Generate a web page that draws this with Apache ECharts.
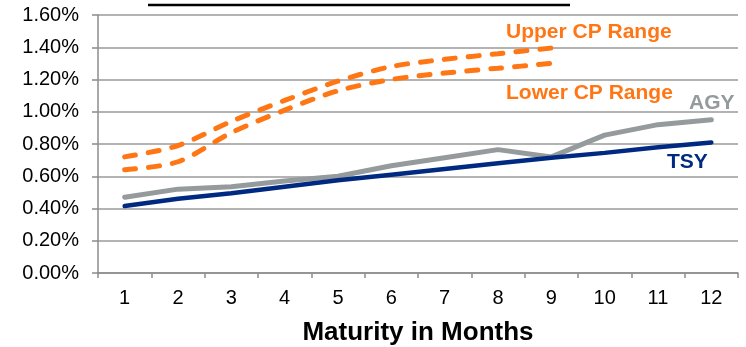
<!DOCTYPE html>
<html>
<head>
<meta charset="utf-8">
<script src="https://cdn.jsdelivr.net/npm/echarts@6/dist/echarts.min.js"></script>
<style>
  html, body { margin: 0; padding: 0; background: #fff; }
  #chart { width: 746px; height: 347px; }
</style>
</head>
<body>
<div id="chart"></div>
<script>
// Maturity buckets (months)
const months = ['1', '2', '3', '4', '5', '6', '7', '8', '9', '10', '11', '12'];

// Yields in percent
const upperCP = [0.72, 0.79, 0.94, 1.07, 1.19, 1.28, 1.325, 1.36, 1.395, null, null, null];
const lowerCP = [0.64, 0.69, 0.87, 1.01, 1.13, 1.20, 1.24, 1.27, 1.30, null, null, null];
const agy = [0.47, 0.52, 0.535, 0.57, 0.60, 0.665, 0.715, 0.765, 0.72, 0.855, 0.92, 0.95];
const tsy = [0.415, 0.46, 0.495, 0.535, 0.575, 0.61, 0.645, 0.68, 0.715, 0.745, 0.78, 0.81];

const yTicks = [0, 0.2, 0.4, 0.6, 0.8, 1.0, 1.2, 1.4, 1.6];

const ORANGE = '#ff7615';
const GREY = '#959a9c';
const NAVY = '#002a82';
const FONT = 'Liberation Sans, Arial, sans-serif';

const chart = echarts.init(document.getElementById('chart'), null, { renderer: 'canvas' });

function seriesLabel(text, x, y, color) {
  return {
    type: 'text',
    style: { x: x, y: y, text: text, fill: color, font: 'bold 21px ' + FONT, verticalAlign: 'middle' }
  };
}

chart.setOption({
  animation: false,
  grid: { left: 98, right: 8, top: 15, bottom: 74, containLabel: false, outerBoundsMode: 'none' },
  xAxis: {
    type: 'category',
    data: months,
    boundaryGap: true,
    name: 'Maturity in Months',
    nameLocation: 'middle',
    nameGap: 47,
    nameTextStyle: { fontFamily: FONT, fontSize: 26, fontWeight: 'bold', color: '#000' },
    axisLine: { lineStyle: { color: '#8c8c8c', width: 1.5 } },
    axisTick: { show: true, alignWithLabel: false, length: 5, lineStyle: { color: '#8c8c8c', width: 1.5 } },
    axisLabel: { fontFamily: FONT, fontSize: 20, color: '#000', margin: 15 },
    splitLine: { show: false }
  },
  yAxis: {
    type: 'value',
    min: yTicks[0],
    max: yTicks[yTicks.length - 1],
    interval: 0.2,
    axisLine: { show: true, lineStyle: { color: '#8c8c8c', width: 1.5 } },
    axisTick: { show: true, length: 6, inside: false, lineStyle: { color: '#8c8c8c', width: 1.5 } },
    axisLabel: {
      fontFamily: FONT, fontSize: 20, color: '#000', margin: 19,
      formatter: v => v.toFixed(2) + '%'
    },
    splitLine: { show: true, lineStyle: { color: '#9a9a9a', width: 1.5 } }
  },
  series: [
    {
      name: 'Upper CP Range', type: 'line', data: upperCP, smooth: 0.3, symbol: 'none',
      lineStyle: { color: ORANGE, width: 5, type: [11, 13], cap: 'round' }
    },
    {
      name: 'Lower CP Range', type: 'line', data: lowerCP, smooth: 0.3, symbol: 'none',
      lineStyle: { color: ORANGE, width: 5, type: [11, 13], cap: 'round' }
    },
    {
      name: 'AGY', type: 'line', data: agy, symbol: 'none',
      lineStyle: { color: GREY, width: 5, cap: 'round', join: 'round' }
    },
    {
      name: 'TSY', type: 'line', data: tsy, symbol: 'none',
      lineStyle: { color: NAVY, width: 4.5, cap: 'round' }
    }
  ],
  graphic: [
    { type: 'line', shape: { x1: 148, y1: 5, x2: 570, y2: 5 }, style: { stroke: '#000', lineWidth: 2.5 } },
    seriesLabel('Upper CP Range', 506, 32, ORANGE),
    seriesLabel('Lower CP Range', 506, 93, ORANGE),
    seriesLabel('AGY', 689, 103, GREY),
    seriesLabel('TSY', 667, 162, NAVY)
  ]
});
</script>
</body>
</html>
